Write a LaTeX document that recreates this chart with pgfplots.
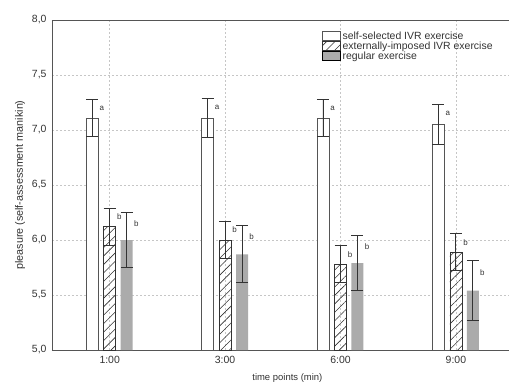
\documentclass[border=0pt]{standalone}
\usepackage{pgfplots}
\usepackage{pgfplotstable}
\pgfplotsset{compat=1.18}
\usepackage{fontspec}
\setmainfont{Liberation Sans}
\usetikzlibrary{patterns.meta}
\definecolor{axgray}{HTML}{555555}
\definecolor{bargray}{HTML}{ABABAB}
\definecolor{txtgray}{HTML}{333333}

% x = time point index plus the bar's offset within its group
\pgfplotstableread{
x y e
-0.152 7.11 0.17
0.848 7.11 0.18
1.848 7.11 0.17
2.848 7.05 0.18
}\selfsel
\pgfplotstableread{
x y e
0 6.12 0.17
1 6.00 0.17
2 5.78 0.17
3 5.89 0.17
}\extimp
\pgfplotstableread{
x y e
0.147 6.00 0.25
1.147 5.87 0.26
2.147 5.79 0.25
3.147 5.54 0.27
}\regular

\begin{document}
\begin{tikzpicture}[sig/.style={anchor=west, inner sep=0pt, font=\fontsize{8}{9}\selectfont, text=txtgray}]
\begin{axis}[
  scale only axis, width=457bp, height=330bp,
  xmin=-0.5, xmax=3.46, ymin=5, ymax=8,
  axis x line=box, axis y line=left,
  axis line style={-, axgray, line width=0.9bp},
  major tick length=0pt,
  xtick={0,1,2,3}, xticklabels={1:00,3:00,6:00,9:00},
  ytick={5,5.5,6,6.5,7,7.5,8},
  yticklabel style={/pgf/number format/fixed, /pgf/number format/fixed zerofill, /pgf/number format/precision=1, /pgf/number format/use comma, xshift=-2bp},
  /pgf/number format/assume math mode=true,
  ticklabel style={font=\fontsize{10.5}{12}\selectfont, text=txtgray},
  xticklabel style={yshift=-3bp},
  grid=major,
  major grid style={dash pattern=on 2bp off 2bp, gray!45, line width=0.5bp},
  xlabel={time points (min)},
  ylabel={pleasure (self-assessment manikin)},
  xlabel style={at={(axis description cs:0.515,0)}, anchor=center, yshift=-28bp, font=\fontsize{9.5}{11}\selectfont, text=txtgray},
  ylabel style={at={(axis description cs:0,0.5)}, anchor=center, yshift=32bp, font=\fontsize{10.8}{12}\selectfont, text=txtgray},
  clip=false,
  legend style={at={(rel axis cs:0.59,0.97)}, anchor=north west, draw=none, fill=none,
    font=\fontsize{10.5}{12}\selectfont, text=txtgray, row sep=-3bp, inner sep=0pt,
    legend cell align=left},
  legend image code/.code={\draw[#1] (0bp,-3.5bp) rectangle (18bp,5.5bp);},
  error bars/error bar style={line width=0.9bp, color=txtgray},
  error bars/error mark options={rotate=90, mark size=6bp, line width=1bp, color=txtgray},
]
\addplot[ybar, bar width=0.104, bar shift=0, draw=axgray, fill=white, line width=0.8bp,
  error bars/.cd, y dir=both, y explicit]
  table[x=x, y=y, y error=e]{\selfsel};
\addlegendentry{self-selected IVR exercise}
\addplot[ybar, bar width=0.104, bar shift=0, draw=txtgray, line width=0.7bp,
  pattern={Lines[angle=45, distance=6pt, line width=0.6pt]}, pattern color=txtgray,
  error bars/.cd, y dir=both, y explicit]
  table[x=x, y=y, y error=e]{\extimp};
\addlegendentry{externally-imposed IVR exercise}
\addplot[ybar, bar width=0.104, bar shift=0, draw=none, fill=bargray,
  error bars/.cd, y dir=both, y explicit]
  table[x=x, y=y, y error=e]{\regular};
\addlegendentry{regular exercise}

% significance letters
\node[sig] at (axis cs:-0.09,7.20) {a};
\node[sig] at (axis cs:0.91,7.21) {a};
\node[sig] at (axis cs:1.91,7.20) {a};
\node[sig] at (axis cs:2.91,7.15) {a};
\node[sig] at (axis cs:0.062,6.21) {b};
\node[sig] at (axis cs:1.062,6.09) {b};
\node[sig] at (axis cs:2.062,5.87) {b};
\node[sig] at (axis cs:3.062,5.98) {b};
\node[sig] at (axis cs:0.209,6.15) {b};
\node[sig] at (axis cs:1.209,6.03) {b};
\node[sig] at (axis cs:2.209,5.94) {b};
\node[sig] at (axis cs:3.209,5.70) {b};
\coordinate (ll) at (rel axis cs:0,0);
\coordinate (ur) at (rel axis cs:1,1);
\end{axis}
\pgfresetboundingbox
\path[use as bounding box] ([shift={(-52bp,-35bp)}]ll) rectangle ([shift={(0bp,20bp)}]ur);
\end{tikzpicture}
\end{document}
